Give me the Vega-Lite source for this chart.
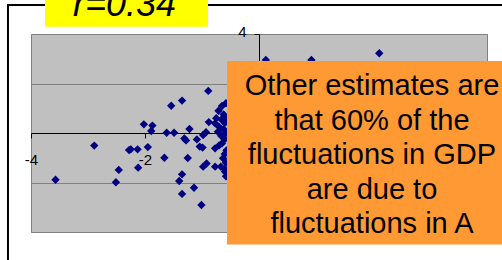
{
  "$schema": "https://vega.github.io/schema/vega-lite/v6.json",
  "width": 456,
  "height": 198,
  "autosize": {"type": "none"},
  "padding": {"left": 31, "top": 34, "right": 15, "bottom": 28},
  "background": "white",
  "config": {
    "view": {"fill": "#C0C0C0", "stroke": "#808080", "strokeWidth": 1},
    "axis": {"domainColor": "#000000", "tickColor": "#000000", "labelColor": "#000000", "labelFont": "Liberation Sans", "labelFontSize": 15, "tickSize": 5, "domainWidth": 1, "tickWidth": 1, "labelExpr": "'' + datum.value"}
  },
  "layer": [
    {
      "data": {"values": [{}]},
      "mark": {"type": "rect", "fillOpacity": 0, "stroke": "#000000", "strokeWidth": 2},
      "encoding": {"x": {"datum": -4.404}, "x2": {"datum": 5}, "y": {"datum": 5.17}, "y2": {"datum": -6}}
    },
    {
      "data": {"values": [
        {"x": -3.57, "y": -1.89}, {"x": -2.89, "y": -0.51}, {"x": -2.51, "y": -1.99}, {"x": -2.46, "y": -1.49},
        {"x": -2.28, "y": -0.69}, {"x": -2.25, "y": -0.66}, {"x": -2.13, "y": -0.66}, {"x": -1.95, "y": -0.57},
        {"x": -2.12, "y": -1.40}, {"x": -1.66, "y": -1.00}, {"x": -1.25, "y": -1.01}, {"x": -1.35, "y": -1.67},
        {"x": -1.40, "y": -1.94}, {"x": -1.14, "y": -2.21}, {"x": -1.35, "y": -2.46}, {"x": -1.01, "y": -2.91},
        {"x": -0.89, "y": 1.70}, {"x": -1.35, "y": 1.31}, {"x": -1.54, "y": 1.10}, {"x": -0.65, "y": 1.09},
        {"x": -0.71, "y": 0.90}, {"x": -2.02, "y": 0.35}, {"x": -1.87, "y": 0.30}, {"x": -1.89, "y": 0.08},
        {"x": -1.62, "y": 0.01}, {"x": -1.49, "y": 0.01}, {"x": -1.22, "y": 0.16}, {"x": -0.88, "y": 0.44},
        {"x": -0.77, "y": 0.39}, {"x": -0.93, "y": 0.03}, {"x": -0.98, "y": -0.08}, {"x": -1.31, "y": -0.22},
        {"x": -1.28, "y": -0.30}, {"x": -1.09, "y": -0.26}, {"x": -0.99, "y": -0.59}, {"x": -1.04, "y": -0.55},
        {"x": -0.77, "y": -0.62}, {"x": -0.65, "y": -0.42}, {"x": -0.92, "y": -1.23}, {"x": -0.98, "y": -1.36},
        {"x": -0.77, "y": -1.36}, {"x": -0.67, "y": -1.36}, {"x": -0.63, "y": -1.02}, {"x": -0.60, "y": -1.56},
        {"x": -0.62, "y": 0.75}, {"x": -0.58, "y": 0.62}, {"x": -0.66, "y": 0.55}, {"x": -0.60, "y": 0.40},
        {"x": -0.70, "y": 0.25}, {"x": -0.62, "y": 0.15}, {"x": -0.58, "y": 0.00}, {"x": -0.66, "y": -0.12},
        {"x": -0.60, "y": -0.25}, {"x": -0.70, "y": -0.50}, {"x": -0.57, "y": -0.70}, {"x": -0.60, "y": -0.85},
        {"x": -0.72, "y": 0.05}, {"x": -0.75, "y": 0.60}, {"x": -0.58, "y": 1.20}, {"x": -0.58, "y": -1.20},
        {"x": -0.60, "y": -1.45}, {"x": -0.58, "y": -1.75},
        {"x": 0.12, "y": 2.95}, {"x": 0.92, "y": 2.95}, {"x": 2.11, "y": 3.22},
        {"x": 0.30, "y": 1.50}, {"x": 0.50, "y": 0.80}, {"x": 1.00, "y": 1.20}, {"x": 1.50, "y": 2.00},
        {"x": 0.20, "y": -0.50}, {"x": 0.80, "y": -1.00}, {"x": 1.20, "y": 0.30}, {"x": 2.00, "y": 1.00},
        {"x": 0.00, "y": 0.30}, {"x": 0.40, "y": 2.20}, {"x": 1.60, "y": -0.40}, {"x": 2.50, "y": 1.80}
      ]},
      "mark": {"type": "point", "shape": "diamond", "filled": true, "size": 70, "color": "#000080", "opacity": 1},
      "encoding": {
        "x": {"field": "x", "type": "quantitative", "scale": {"domain": [-4, 4], "nice": false, "zero": false},
              "axis": {"values": [-4, -2, 0, 2, 4], "grid": false, "offset": -99, "labelPadding": 14, "labelFlush": false, "title": null}},
        "y": {"field": "y", "type": "quantitative", "scale": {"domain": [-4, 4], "nice": false, "zero": false},
              "axis": {"values": [-4, -2, 0, 2, 4], "grid": true, "gridColor": "#808080", "gridOpacity": 1, "offset": -228, "labelPadding": 8, "labelOffset": -3, "title": null}}
      }
    },
    {
      "data": {"values": [{}]},
      "mark": {"type": "rect", "fill": "#FFFF00"},
      "encoding": {"x": {"datum": -3.754}, "x2": {"datum": -0.895}, "y": {"datum": 5.6}, "y2": {"datum": 4.295}}
    },
    {
      "data": {"values": [{"label": "r=0.34"}]},
      "mark": {"type": "text", "font": "Liberation Sans", "fontSize": 36, "fontStyle": "italic", "align": "center", "baseline": "alphabetic", "color": "#000000"},
      "encoding": {"x": {"datum": -2.36}, "y": {"datum": 4.727}, "text": {"field": "label"}}
    },
    {
      "data": {"values": [{}]},
      "mark": {"type": "rect", "fill": "#FF9933"},
      "encoding": {"x": {"datum": -0.561}, "x2": {"datum": 5}, "y": {"datum": 2.909}, "y2": {"datum": -4.505}}
    },
    {
      "data": {"values": [{}]},
      "mark": {"type": "text", "font": "Liberation Sans", "fontSize": 29, "align": "center", "baseline": "alphabetic", "lineHeight": 34.5, "color": "#000000",
               "text": ["Other estimates are", "that 60% of the", "fluctuations in GDP", "are due to", "fluctuations in A"]},
      "encoding": {"x": {"datum": 1.982}, "y": {"datum": 1.535}}
    }
  ]
}
